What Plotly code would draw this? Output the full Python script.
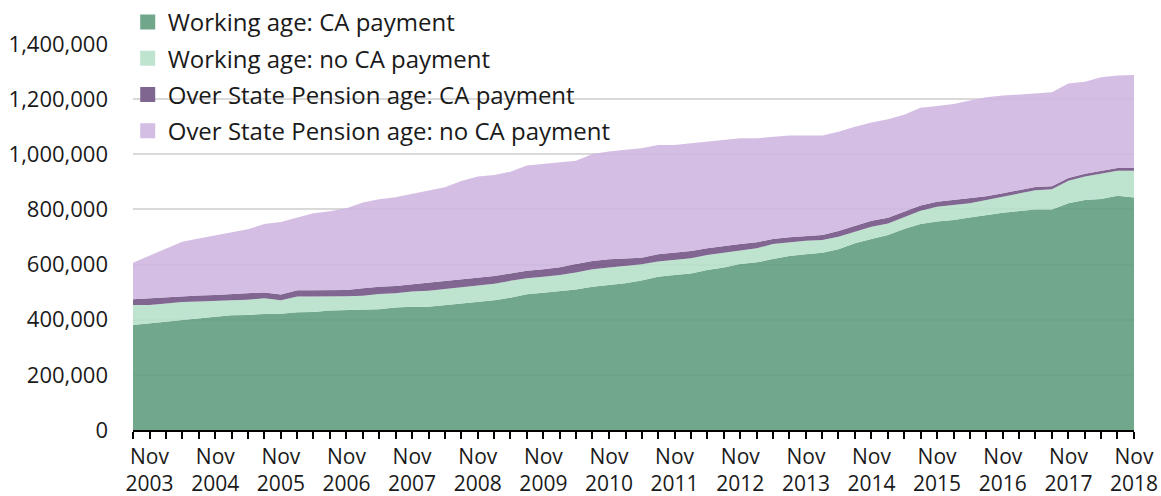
"""Carer's Allowance claimants, stacked area by age group and payment status."""
import pandas as pd
import plotly.graph_objects as go

# quarterly, Aug 2003 .. Nov 2018
quarters = pd.date_range("2003-08-01", "2018-11-01", freq="3MS")

working_ca = [381, 387, 393, 401, 406, 411, 416, 417, 421, 422, 427, 428, 433, 434, 435, 438,
              444, 447, 447, 453, 459, 463, 471, 480, 492, 498, 504, 510, 520, 526, 532, 542,
              556, 562, 568, 580, 589, 602, 608, 620, 631, 637, 643, 656, 677, 693, 707, 729,
              747, 756, 762, 771, 780, 788, 794, 800, 800, 822, 834, 838, 850, 843]
working_no_ca = [72, 66, 66, 63, 60, 58, 55, 55, 57, 49, 57, 56, 51, 51, 52, 55,
                 52, 55, 58, 58, 59, 60, 59, 61, 58, 58, 58, 61, 63, 63, 63, 59,
                 55, 55, 55, 55, 54, 51, 51, 55, 50, 49, 46, 45, 42, 44, 42, 42,
                 48, 54, 54, 51, 54, 58, 64, 70, 73, 82, 85, 91, 90, 97]
pension_ca = [21, 25, 22, 22, 22, 21, 22, 22, 21, 20, 23, 23, 23, 23, 27, 27,
              26, 26, 29, 29, 28, 29, 29, 27, 28, 27, 28, 31, 30, 30, 28, 24,
              26, 26, 26, 24, 25, 22, 22, 18, 18, 18, 18, 21, 21, 22, 21, 21,
              19, 18, 18, 18, 14, 13, 12, 11, 11, 10, 10, 10, 10, 10]
pension_no_ca = [133, 154, 176, 197, 207, 217, 224, 234, 248, 263, 264, 279, 286, 296, 311, 317,
                 322, 328, 336, 340, 357, 367, 366, 369, 381, 382, 380, 375, 388, 391, 393, 397,
                 397, 391, 391, 387, 384, 383, 377, 371, 369, 364, 361, 360, 360, 356, 357, 351,
                 355, 347, 348, 355, 359, 354, 347, 342, 341, 343, 334, 340, 336, 338]

series = [
    ("Working age: CA payment", working_ca, "rgba(93,155,123,0.88)", "#70a78b"),
    ("Working age: no CA payment", working_no_ca, "rgba(181,224,202,0.88)", "#bee4d0"),
    ("Over State Pension age: CA payment", pension_ca, "rgba(110,81,130,0.88)", "#7f6691"),
    ("Over State Pension age: no CA payment", pension_no_ca, "rgba(207,181,224,0.88)", "#d5bee4"),
]

FONT = "Open Sans"

fig = go.Figure()
for name, vals, fill, solid in series:
    fig.add_trace(go.Scatter(
        x=quarters, y=[v * 1000 for v in vals],
        mode="lines", stackgroup="one",
        line=dict(width=0), fillcolor=fill,
        name=name, showlegend=False, hoverinfo="x+y+name",
    ))
# square legend swatches
for name, vals, fill, solid in series:
    fig.add_trace(go.Scatter(
        x=[None], y=[None], mode="markers",
        marker=dict(symbol="square", size=15, color=solid),
        name=name, legendgroup=name,
    ))

fig.update_layout(
    width=1161, height=496,
    margin=dict(l=133, r=27, t=44, b=66, autoexpand=False),
    paper_bgcolor="white", plot_bgcolor="white",
    font=dict(family=FONT, color="#1a1a1a"),
    showlegend=True,
    legend=dict(
        xref="container", yref="container",
        x=0.11, y=1.0, xanchor="left", yanchor="top",
        font=dict(size=24, family=FONT, color="#1a1a1a"),
        bgcolor="rgba(0,0,0,0)", tracegroupgap=2,
        itemwidth=30,
    ),
    xaxis=dict(
        type="date", automargin=False,
        range=[quarters[0], quarters[-1]],
        tickmode="linear", tick0="2003-11-01", dtick="M12",
        tickformat="%b<br>%Y",
        ticks="outside", ticklen=7, tickwidth=1.5, tickcolor="black",
        minor=dict(dtick="M3", tick0="2003-08-01", ticks="outside",
                   ticklen=7, tickwidth=1.5, tickcolor="black", showgrid=False),
        showline=True, linecolor="black", linewidth=1.5,
        showgrid=False, zeroline=False,
        tickfont=dict(size=21, family=FONT, color="#1a1a1a"),
    ),
    yaxis=dict(
        automargin=False,
        range=[0, 1400000], dtick=200000, tickformat=",d",
        showgrid=True, gridcolor="#d9d9d9", gridwidth=1.5,
        zeroline=False, ticks="", ticklabelstandoff=24,
        tickfont=dict(size=22, family=FONT, color="#1a1a1a"),
    ),
)

# drop the browser's default body margin so the figure sits at 0,0
fig.write_html("out.html", config={"displayModeBar": False},
               post_script="document.body.style.margin='0';")
